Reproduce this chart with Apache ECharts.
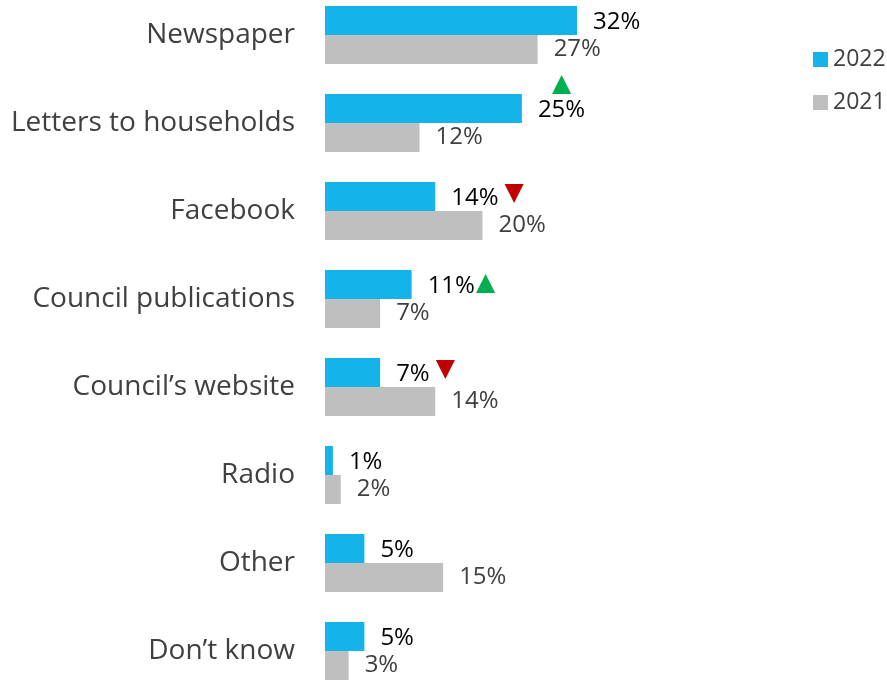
<!DOCTYPE html>
<html>
<head>
<meta charset="utf-8">
<script src="https://cdn.jsdelivr.net/npm/echarts@6/dist/echarts.min.js"></script>
<style>html,body{margin:0;padding:0;background:#fff}#c{width:887px;height:681px}</style>
</head>
<body>
<div id="c"></div>
<script>
var categories = ['Newspaper', 'Letters to households', 'Facebook', 'Council publications', 'Council\u2019s website', 'Radio', 'Other', 'Don\u2019t know'];
var values2022 = [32, 25, 14, 11, 7, 1, 5, 5];
var values2021 = [27, 12, 20, 7, 14, 2, 15, 3];
var trend2022 = ['', 'up', 'down', 'up', 'down', '', '', ''];
var seriesNames = ['2022', '2021'];

var FONT = '"Open Sans", "Noto Sans", sans-serif';
var chart = echarts.init(document.getElementById('c'), null, {renderer: 'canvas'});

function label2022(p) {
  var t = trend2022[p.dataIndex];
  var v = '{v|' + p.value + '%}';
  if (t === 'up' && p.dataIndex === 1) return '{upc|\u25B2}\n' + v + '\n{e| }';
  if (t === 'up') return v + '{up|\u25B2}';
  if (t === 'down') return v + '{dn|\u25BC}';
  return v;
}

chart.setOption({
  animation: false,
  textStyle: {fontFamily: FONT},
  legend: {
    orient: 'vertical', left: 808, top: 43, itemWidth: 15, itemHeight: 15, itemGap: 20,
    icon: 'rect',
    textStyle: {fontSize: 23, color: '#404040', fontFamily: FONT},
    data: seriesNames
  },
  grid: {left: 325, top: -9, width: 315, height: 704, containLabel: false, outerBoundsMode: 'none'},
  xAxis: {type: 'value', min: 0, max: 40, show: false},
  yAxis: {
    type: 'category', data: categories, inverse: true,
    axisLine: {show: false}, axisTick: {show: false},
    axisLabel: {fontSize: 28, color: '#404040', margin: 30, fontFamily: FONT}
  },
  series: [
    {
      name: seriesNames[0], type: 'bar', data: values2022, barWidth: 29, barGap: '0%',
      itemStyle: {color: '#14B4EA'},
      label: {
        show: true, position: 'right', distance: 16, formatter: label2022,
        rich: {
          v: {fontSize: 24, color: '#000', fontFamily: FONT, lineHeight: 24, align: 'center', padding: [4, 0, 0, 0]},
          up: {fontSize: 25, color: '#00B050', padding: [0, 0, 2, 1], fontFamily: 'DejaVu Sans'},
          dn: {fontSize: 25, color: '#C00000', padding: [0, 0, 6, 6], fontFamily: 'DejaVu Sans'},
          upc: {fontSize: 25, color: '#00B050', lineHeight: 24, align: 'center', fontFamily: 'DejaVu Sans'},
          e: {fontSize: 24, lineHeight: 24}
        }
      }
    },
    {
      name: seriesNames[1], type: 'bar', data: values2021, barWidth: 29,
      itemStyle: {color: '#BFBFBF'},
      label: {
        show: true, position: 'right', distance: 16, formatter: '{c}%',
        fontSize: 24, color: '#404040', fontFamily: FONT, padding: [4, 0, 0, 0]
      }
    }
  ]
});
</script>
</body>
</html>
